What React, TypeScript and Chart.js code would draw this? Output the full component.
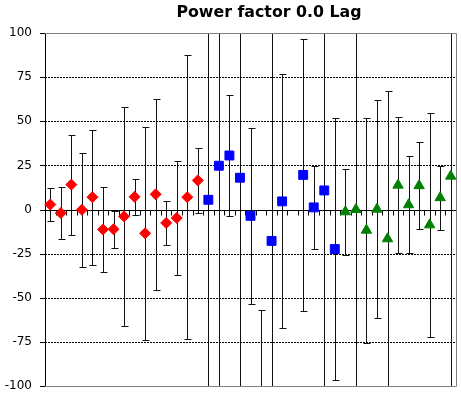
import React, { useEffect, useRef } from "react";
import { Chart, registerables } from "chart.js";

Chart.register(...registerables);

const chartTitle = "Power factor 0.0 Lag";

const categories = [
  "1", "2", "3", "4", "5", "6", "7", "8", "9", "10",
  "11", "12", "13", "14", "15", "16", "17", "18", "19", "20",
  "21", "22", "23", "24", "25", "26", "27", "28", "29", "30",
  "31", "32", "33", "34", "35", "36", "37", "38", "39",
];

const yTickValues = [-100, -75, -50, -25, 0, 25, 50, 75, 100];
const dashedGridValues = [-75, -50, -25, 25, 50, 75];

// series 1 (red diamonds): categories 1-15
const redValues = [2.8, -2.0, 14.1, -0.2, 7.0, -11.3, -11.2, -3.9, 7.2, -13.5, 8.6, -7.6, -4.8, 7.0, 16.5];
const redErrors = [9.3, 14.7, 28.3, 32.4, 38.3, 24.0, 10.6, 62.2, 10.2, 60.5, 54.1, 12.3, 32.2, 80.3, 18.5];

// series 2 (blue squares): categories 16-28
const blueValues = [5.5, 24.8, 30.6, 18.0, -3.6, -125, -17.8, 4.6, null, 19.6, 1.2, 10.8, -22.4];
const blueErrors = [125, 140, 34, 130, 50, 68, 125, 71.9, null, 77.2, 23.5, 120, 74.4];

// series 3 (green triangles): categories 29-39
const greenValues = [-1.3, 0.0, -11.7, 0.2, -16.6, 13.8, 2.7, 13.5, -8.7, 6.7, 18.9];
const greenErrors = [24.4, 115, 63.8, 61.7, 83.6, 38.4, 27.5, 24.5, 63.6, 18.2, 125];

const nulls = (n: number) => new Array(n).fill(null);

const redData = [...redValues, ...nulls(categories.length - redValues.length)];
const redErr = [...redErrors, ...nulls(categories.length - redErrors.length)];
const blueData = [...nulls(redValues.length), ...blueValues, ...nulls(greenValues.length)];
const blueErr = [...nulls(redValues.length), ...blueErrors, ...nulls(greenValues.length)];
const greenData = [...nulls(redValues.length + blueValues.length), ...greenValues];
const greenErr = [...nulls(redValues.length + blueValues.length), ...greenErrors];

const FONT = "'DejaVu Sans', Verdana, sans-serif";

const decorPlugin = {
  id: "decor",
  beforeDatasetsDraw(chart: any) {
    const { ctx, chartArea: a, scales } = chart;
    const y = scales.y;
    ctx.save();
    ctx.strokeStyle = "#000";
    ctx.lineWidth = 1;
    // y-axis tick marks (outside)
    ctx.beginPath();
    yTickValues.forEach((v) => {
      const py = Math.round(y.getPixelForValue(v)) + 0.5;
      ctx.moveTo(a.left - 5, py);
      ctx.lineTo(a.left, py);
    });
    ctx.stroke();
    // dashed grid lines
    ctx.setLineDash([2, 1]);
    dashedGridValues.forEach((v) => {
      const py = Math.round(y.getPixelForValue(v)) + 0.5;
      ctx.beginPath();
      ctx.moveTo(a.left, py);
      ctx.lineTo(a.right, py);
      ctx.stroke();
    });
    ctx.setLineDash([]);
    // zero line with ticks
    const y0 = Math.round(y.getPixelForValue(0)) + 0.5;
    ctx.beginPath();
    ctx.moveTo(a.left, y0);
    ctx.lineTo(a.right, y0);
    ctx.stroke();
    const n = categories.length;
    const step = (a.right - a.left) / n;
    ctx.beginPath();
    for (let k = 1; k < n; k++) {
      const px = Math.round(a.left + k * step) + 0.5;
      ctx.moveTo(px, y0);
      ctx.lineTo(px, y0 + 5);
    }
    ctx.stroke();
    // error bars
    ctx.beginPath();
    ctx.rect(a.left, a.top, a.right - a.left, a.bottom - a.top);
    ctx.clip();
    ctx.strokeStyle = "#111";
    chart.data.datasets.forEach((ds: any, i: number) => {
      const meta = chart.getDatasetMeta(i);
      ds.data.forEach((v: any, j: number) => {
        const e = ds.errors[j];
        if (v === null || e === null) return;
        const px = Math.round(meta.data[j].x) + 0.5;
        const top = Math.round(y.getPixelForValue(v + e)) + 0.5;
        const bot = Math.round(y.getPixelForValue(v - e)) + 0.5;
        ctx.beginPath();
        ctx.moveTo(px, top);
        ctx.lineTo(px, bot);
        ctx.moveTo(px - 3, top);
        ctx.lineTo(px + 4, top);
        ctx.moveTo(px - 3, bot);
        ctx.lineTo(px + 4, bot);
        ctx.stroke();
      });
    });
    ctx.restore();
  },
  afterDraw(chart: any) {
    const { ctx, chartArea: a } = chart;
    ctx.save();
    ctx.strokeStyle = "#808080";
    ctx.lineWidth = 1;
    ctx.beginPath();
    ctx.moveTo(a.left, Math.round(a.top) + 0.5);
    ctx.lineTo(Math.round(a.right) + 0.5, Math.round(a.top) + 0.5);
    ctx.lineTo(Math.round(a.right) + 0.5, Math.round(a.bottom) + 0.5);
    ctx.lineTo(a.left, Math.round(a.bottom) + 0.5);
    ctx.stroke();
    ctx.fillStyle = "#000";
    ctx.font = `bold 15.8px ${FONT}`;
    ctx.textAlign = "center";
    ctx.textBaseline = "alphabetic";
    ctx.fillText(chartTitle, 269, 17);
    ctx.restore();
  },
};

export default function App() {
  const ref = useRef<HTMLCanvasElement>(null);
  useEffect(() => {
    document.body.style.margin = "0";
    const chart = new Chart(ref.current!, {
      type: "line",
      data: {
        labels: categories,
        datasets: [
          {
            data: redData,
            errors: redErr,
            showLine: false,
            pointStyle: "rectRot",
            pointRadius: 5.5,
            pointHoverRadius: 5.5,
            backgroundColor: "#ff0000",
            borderColor: "#ff0000",
            pointBorderWidth: 1,
          } as any,
          {
            data: blueData,
            errors: blueErr,
            showLine: false,
            pointStyle: "rect",
            pointRadius: 6.3,
            pointHoverRadius: 6.3,
            backgroundColor: "#0000ff",
            borderColor: "#0000ff",
            pointBorderWidth: 1,
          } as any,
          {
            data: greenData,
            errors: greenErr,
            showLine: false,
            pointStyle: "triangle",
            pointRadius: 6,
            pointHoverRadius: 6,
            backgroundColor: "#008000",
            borderColor: "#008000",
            pointBorderWidth: 1,
          } as any,
        ],
      },
      options: {
        animation: false,
        responsive: false,
        events: [],
        layout: { autoPadding: false, padding: { top: 33, right: 5, bottom: 12, left: 0 } },
        plugins: { legend: { display: false }, tooltip: { enabled: false }, title: { display: false } },
        scales: {
          x: { type: "category", offset: true, display: false },
          y: {
            min: -100,
            max: 100,
            afterBuildTicks: (s: any) => {
              s.ticks = yTickValues.map((v) => ({ value: v }));
            },
            afterFit: (s: any) => {
              s.width = 45;
            },
            grid: { display: false, drawTicks: true, tickLength: 9 },
            border: { display: true, color: "#000" },
            ticks: { padding: 4, color: "#000", font: { family: FONT, size: 12 } },
          },
        },
      },
      plugins: [decorPlugin],
    });
    return () => chart.destroy();
  }, []);
  return <canvas ref={ref} width={461} height={398} style={{ display: "block", width: 461, height: 398 }} />;
}
